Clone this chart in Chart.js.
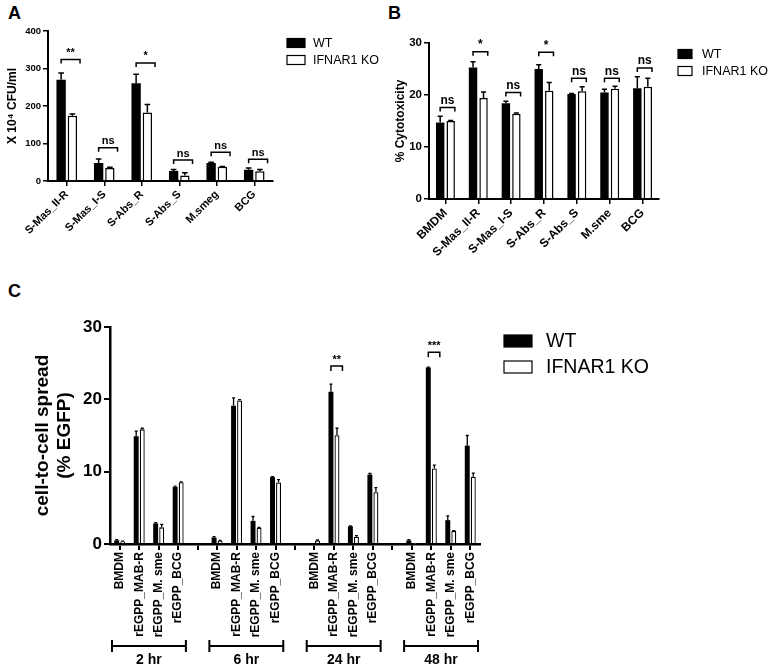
<!DOCTYPE html>
<html>
<head>
<meta charset="utf-8">
<title>IFNAR1 KO panels</title>
<script src="https://cdn.jsdelivr.net/npm/chart.js@4.4.1/dist/chart.umd.min.js"></script>
<style>
  body { margin: 0; background: #fff; width: 771px; height: 666px; position: relative; overflow: hidden;
         font-family: Arial, "Liberation Sans", sans-serif; }
  canvas { position: absolute; }
  .tag { position: absolute; font-weight: bold; font-size: 18px; }
</style>
</head>
<body>
<div class="tag" style="left:8px;top:3px">A</div>
<div class="tag" style="left:388px;top:3px">B</div>
<div class="tag" style="left:8px;top:281px">C</div>
<canvas id="chartA" width="380" height="270" style="left:0;top:0"></canvas>
<canvas id="chartB" width="391" height="270" style="left:380px;top:0"></canvas>
<canvas id="chartC" width="771" height="386" style="left:0;top:280px"></canvas>
<script>
"use strict";

// ---- panel A : CFU ----
const aLabels = ['S-Mas_II-R', 'S-Mas_I-S', 'S-Abs_R', 'S-Abs_S', 'M.smeg', 'BCG'];
const aWT = [270, 48, 261, 27, 48, 30];
const aWTerr = [18, 11, 24, 4, 2, 5];
const aKO = [174, 35, 183, 15, 38, 26];
const aKOerr = [5, 2, 21, 7, 1, 5];
const aSig = ['**', 'ns', '*', 'ns', 'ns', 'ns'];
const aSigAt = [324, 89, 315, 56, 77, 58];

// ---- panel B : cytotoxicity ----
const bLabels = ['BMDM', 'S-Mas_II-R', 'S-Mas_I-S', 'S-Abs_R', 'S-Abs_S', 'M.sme', 'BCG'];
const bWT = [14.7, 25.3, 18.4, 25.0, 20.2, 20.5, 21.3];
const bWTerr = [1.2, 1.1, 0.4, 0.8, 0.1, 0.6, 2.2];
const bKO = [15.0, 19.4, 16.4, 20.8, 20.7, 21.2, 21.6];
const bKOerr = [0.1, 1.2, 0.15, 1.6, 0.9, 0.5, 1.6];
const bSig = ['ns', '*', 'ns', '*', 'ns', 'ns', 'ns'];
const bSigAt = [17.6, 28.3, 20.5, 28.2, 23.2, 23.2, 25.2];

// ---- panel C : cell-to-cell spread, 4 strains per time point ----
const cTimes = ['2 hr', '6 hr', '24 hr', '48 hr'];
const cStrains = ['BMDM', 'rEGPP_MAB-R', 'rEGPP_M. sme', 'rEGPP_BCG'];
const cWT = [0.5, 14.9, 2.85, 7.9,  0.9, 19.1, 3.2, 9.25,  0.1, 21.05, 2.45, 9.6,  0.5, 24.4, 3.3, 13.6];
const cWTerr = [0.1, 0.7, 0.1, 0.1,  0.1, 1.1, 0.6, 0.05,  0, 1.05, 0.05, 0.15,  0.1, 0.05, 0.6, 1.4];
const cKO = [0.35, 15.85, 2.3, 8.55,  0.45, 19.85, 2.25, 8.5,  0.5, 15.05, 1.0, 7.15,  0.05, 10.45, 1.8, 9.3];
const cKOerr = [0.05, 0.15, 0.4, 0.05,  0.05, 0.1, 0.05, 0.4,  0.05, 0.95, 0.15, 0.65,  0, 0.45, 0.05, 0.5];
const cSig = ['', '', '**', '***'];      // over rEGPP_MAB-R
const cSigAt = [null, null, 24.6, 26.5];

const FONT = 'Arial, "Liberation Sans", sans-serif';
Chart.defaults.font.family = FONT;
Chart.defaults.color = '#000';

// put a gap slot between the time points
function slots(arr, fill) {
  const out = [];
  cTimes.forEach((t, g) => {
    if (g > 0) out.push(fill);
    for (let k = 0; k < cStrains.length; k++) out.push(arr[g * cStrains.length + k]);
  });
  return out;
}
const cLabels = slots(cStrains.concat(cStrains, cStrains, cStrains), '');
const cSigSlots = [], cSigLevels = [];
cLabels.forEach(() => { cSigSlots.push(''); cSigLevels.push(null); });
cTimes.forEach((t, g) => {
  cSigSlots[g * 5 + 1] = cSig[g];
  cSigLevels[g * 5 + 1] = cSigAt[g];
});

// error bars (upper SEM only)
const errorBars = {
  id: 'errorBars',
  afterDatasetsDraw(chart, args, opts) {
    const ctx = chart.ctx, y = chart.scales.y;
    ctx.save();
    ctx.strokeStyle = '#000';
    ctx.lineWidth = opts.width || 1.5;
    chart.data.datasets.forEach((ds, d) => {
      chart.getDatasetMeta(d).data.forEach((bar, i) => {
        const v = ds.data[i], e = ds.errors[i];
        if (v == null || !e) return;
        const top = y.getPixelForValue(v + e);
        const cap = bar.width * 0.3;
        ctx.beginPath();
        ctx.moveTo(bar.x, bar.y);
        ctx.lineTo(bar.x, top);
        ctx.moveTo(bar.x - cap, top);
        ctx.lineTo(bar.x + cap, top);
        ctx.stroke();
      });
    });
    ctx.restore();
  }
};

// significance brackets
const sigMarks = {
  id: 'sigMarks',
  afterDatasetsDraw(chart, args, opts) {
    const ctx = chart.ctx, y = chart.scales.y;
    const wt = chart.getDatasetMeta(0).data, ko = chart.getDatasetMeta(1).data;
    ctx.save();
    ctx.strokeStyle = '#000';
    ctx.fillStyle = '#000';
    ctx.lineWidth = 1.5;
    ctx.font = 'bold ' + opts.size + 'px ' + FONT;
    ctx.textAlign = 'center';
    ctx.textBaseline = 'bottom';
    opts.labels.forEach((t, i) => {
      if (!t) return;
      const x1 = wt[i].x, x2 = ko[i].x + ko[i].width / 2 + opts.over;
      const yy = y.getPixelForValue(opts.levels[i]);
      ctx.beginPath();
      ctx.moveTo(x1, yy + opts.leg);
      ctx.lineTo(x1, yy);
      ctx.lineTo(x2, yy);
      ctx.lineTo(x2, yy + opts.leg);
      ctx.stroke();
      ctx.fillText(t, (x1 + x2) / 2, yy - 1);
    });
    ctx.restore();
  }
};

// legend to the right of the plot
const sideLegend = {
  id: 'sideLegend',
  afterDraw(chart, args, opts) {
    const ctx = chart.ctx;
    const x = chart.chartArea.right + opts.dx;
    ctx.save();
    ctx.font = opts.size + 'px ' + FONT;
    ctx.textBaseline = 'middle';
    ctx.lineWidth = 1.2;
    chart.data.datasets.forEach((ds, d) => {
      const cy = opts.rows[d];
      ctx.fillStyle = ds.backgroundColor;
      ctx.fillRect(x, cy - opts.boxH / 2, opts.boxW, opts.boxH);
      ctx.strokeStyle = '#000';
      ctx.strokeRect(x, cy - opts.boxH / 2, opts.boxW, opts.boxH);
      ctx.fillStyle = '#000';
      ctx.fillText(ds.label, x + opts.boxW + opts.gap, cy + 1);
    });
    ctx.restore();
  }
};

// time point brackets under panel C
const timeGroups = {
  id: 'timeGroups',
  afterDraw(chart, args, opts) {
    const xs = chart.scales.x;
    const slot = xs.width / xs.ticks.length;
    const yb = chart.chartArea.bottom + opts.lineAt;
    const ctx = chart.ctx;
    ctx.save();
    ctx.strokeStyle = '#000';
    ctx.fillStyle = '#000';
    ctx.lineWidth = 2;
    ctx.font = 'bold ' + opts.size + 'px ' + FONT;
    ctx.textAlign = 'center';
    ctx.textBaseline = 'top';
    opts.labels.forEach((t, g) => {
      const x1 = xs.getPixelForValue(g * opts.every) - slot / 2 + 2;
      const x2 = xs.getPixelForValue(g * opts.every + opts.count - 1) + slot / 2 - 2;
      ctx.beginPath();
      ctx.moveTo(x1, yb); ctx.lineTo(x2, yb);
      ctx.moveTo(x1, yb - 6); ctx.lineTo(x1, yb + 6);
      ctx.moveTo(x2, yb - 6); ctx.lineTo(x2, yb + 6);
      ctx.stroke();
      ctx.fillText(t, (x1 + x2) / 2, yb + opts.textGap);
    });
    ctx.restore();
  }
};

function barChart(id, p) {
  return new Chart(document.getElementById(id), {
    type: 'bar',
    data: {
      labels: p.labels,
      datasets: [
        { label: 'WT', data: p.wt, errors: p.wtErr, backgroundColor: '#000', borderColor: '#000', borderWidth: 0,
          categoryPercentage: p.cat, barPercentage: p.bar },
        { label: 'IFNAR1 KO', data: p.ko, errors: p.koErr, backgroundColor: '#fff', borderColor: '#000', borderWidth: p.border,
          categoryPercentage: p.cat, barPercentage: p.bar }
      ]
    },
    options: {
      responsive: false,
      animation: false,
      layout: { padding: { top: p.area.top, right: p.canvasW - p.area.right, bottom: 0, left: 0 } },
      plugins: {
        legend: { display: false },
        tooltip: { enabled: false },
        errorBars: { width: p.errW },
        sigMarks: { labels: p.sig, levels: p.sigAt, size: p.sigSize, leg: p.leg, over: p.over },
        sideLegend: p.legend,
        timeGroups: p.groups
      },
      scales: {
        x: {
          offset: true,
          grid: { display: true, drawOnChartArea: false, drawTicks: true, offset: false, tickLength: p.tickLen, color: '#000', lineWidth: p.axisW - 0.5 },
          border: { display: true, color: '#000', width: p.axisW },
          ticks: { autoSkip: false, minRotation: p.rot, maxRotation: p.rot, padding: 2,
                   font: { size: p.xFont, weight: 'bold' } },
          afterFit: (s) => { s.height = p.canvasH - p.area.bottom; }
        },
        y: {
          min: 0, max: p.yMax,
          ticks: { stepSize: p.yStep, padding: 2, font: { size: p.yFont, weight: 'bold' } },
          grid: { display: true, drawOnChartArea: false, drawTicks: true, tickLength: p.tickLen, color: '#000', lineWidth: p.axisW - 0.5 },
          border: { display: true, color: '#000', width: p.axisW },
          title: { display: true, text: p.yTitle, font: p.titleFont, padding: { top: p.titlePad, bottom: 0 } },
          afterFit: (s) => { s.width = p.area.left; }
        }
      }
    },
    plugins: [errorBars, sigMarks, sideLegend].concat(p.groups ? [timeGroups] : [])
  });
}

barChart('chartA', {
  labels: aLabels, wt: aWT, wtErr: aWTerr, ko: aKO, koErr: aKOerr,
  sig: aSig, sigAt: aSigAt, sigSize: 11, leg: 4, over: 3,
  canvasW: 380, canvasH: 270, area: { left: 48, right: 273, top: 31, bottom: 181 },
  cat: 0.6, bar: 0.83, border: 1.5, errW: 1.5, axisW: 2, tickLen: 5, rot: 45,
  xFont: 11, yFont: 9.5, yMax: 400, yStep: 100,
  yTitle: 'X 10\u2074 CFU/ml', titleFont: { size: 12, weight: 'bold' }, titlePad: 5,
  legend: { dx: 14, rows: [43, 60], boxW: 18, boxH: 9, gap: 8, size: 12.5 }
});

barChart('chartB', {
  labels: bLabels, wt: bWT, wtErr: bWTerr, ko: bKO, koErr: bKOerr,
  sig: bSig, sigAt: bSigAt, sigSize: 12, leg: 4, over: 0,
  canvasW: 391, canvasH: 270, area: { left: 49, right: 279, top: 43, bottom: 199 },
  cat: 0.64, bar: 0.8, border: 1.5, errW: 1.5, axisW: 2, tickLen: 5, rot: 45,
  xFont: 12, yFont: 11.5, yMax: 30, yStep: 10,
  yTitle: '% Cytotoxicity', titleFont: { size: 12, weight: 'bold' }, titlePad: 13,
  legend: { dx: 19, rows: [54, 71], boxW: 14, boxH: 9, gap: 10, size: 12.5 }
});

barChart('chartC', {
  labels: cLabels, wt: slots(cWT, null), wtErr: slots(cWTerr, null), ko: slots(cKO, null), koErr: slots(cKOerr, null),
  sig: cSigSlots, sigAt: cSigLevels, sigSize: 11, leg: 5, over: 3,
  canvasW: 771, canvasH: 386, area: { left: 110, right: 480, top: 47, bottom: 264 },
  cat: 0.62, bar: 0.82, border: 1.3, errW: 1.3, axisW: 2.5, tickLen: 6, rot: 90,
  xFont: 12, yFont: 17, yMax: 30, yStep: 10,
  yTitle: ['cell-to-cell spread', '(% EGFP)'], titleFont: { size: 19, weight: 'bold' }, titlePad: 31,
  legend: { dx: 24, rows: [61, 87], boxW: 28, boxH: 12, gap: 14, size: 19.5 },
  groups: { labels: cTimes, every: 5, count: cStrains.length, lineAt: 102, textGap: 7, size: 14 }
});
</script>
</body>
</html>
